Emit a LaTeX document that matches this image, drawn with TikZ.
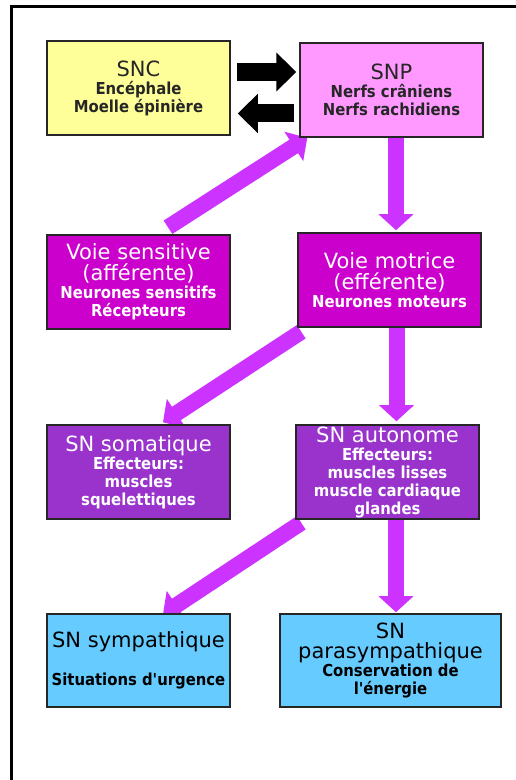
\documentclass[tikz,border=0pt]{standalone}
\usepackage{fontspec}
\setmainfont{DejaVu Sans}
\newfontfamily\condf{DejaVu Sans Condensed}
\usetikzlibrary{arrows.meta,calc,backgrounds}
\definecolor{cyel}{HTML}{FFFF99}
\definecolor{cpink}{HTML}{FF99FF}
\definecolor{cmag}{HTML}{CC00CC}
\definecolor{cpur}{HTML}{9933CC}
\definecolor{ccyan}{HTML}{66CCFF}
\definecolor{carrow}{HTML}{CC33FF}
\newcommand\ttlf{\normalfont\fontsize{21}{21}\selectfont}
\newcommand\subf{\condf\fontsize{16.5}{18}\selectfont\bfseries}
\begin{document}
\begin{tikzpicture}[x=1pt,y=1pt,
  box/.style={draw=black!85, line width=1.5pt, minimum width=183pt, minimum height=94pt,
    inner sep=0pt, align=center, font=\subf},
  parrow/.style={carrow, line width=16pt, -{Triangle[width=34pt,length=16pt]}},
  barrow/.style={black, line width=18pt, -{Triangle[width=38pt,length=20pt]}}]
\useasboundingbox (0,0) rectangle (516,780);
\begin{scope}[on background layer]
  \fill[white] (0,0) rectangle (516,780);
\end{scope}
\draw[line width=3pt, line join=miter] (11,0) -- (11,773) -- (516,773);

\node[box, fill=cyel, text=black!85] (snc) at (138.5,692)
  {{\ttlf SNC}\\Encéphale\\Moelle épinière};
\node[box, fill=cpink, text=black!85] (snp) at (391.5,690)
  {{\ttlf SNP}\\Nerfs crâniens\\Nerfs rachidiens};
\node[box, fill=cmag, text=white] (vs) at (138.5,498)
  {{\ttlf Voie sensitive}\\[3pt]{\ttlf (afférente)}\\Neurones sensitifs\\Récepteurs};
\node[box, fill=cmag, text=white] (vm) at (389.5,500)
  {{\ttlf Voie motrice}\\[3pt]{\ttlf (efférente)}\\Neurones moteurs};
\node[box, fill=cpur, text=white] (som) at (138.5,308)
  {{\ttlf SN somatique}\\Effecteurs:\\muscles\\squelettiques};
\node[box, fill=cpur, text=white] (aut) at (387.5,308)
  {{\ttlf SN autonome}\\Effecteurs:\\muscles lisses\\muscle cardiaque\\glandes};
\node[box, fill=ccyan, text=black, minimum height=93pt] (sym) at (138.5,119.5)
  {{\ttlf SN sympathique}\\[20pt]Situations d'urgence};
\node[box, fill=ccyan, text=black, minimum height=93pt, minimum width=221pt] (para) at (390.5,119.5)
  {{\ttlf SN}\\[2pt]{\ttlf parasympathique}\\Conservation de\\l'énergie};

\begin{scope}[on background layer]
  \draw[barrow] ($(snc.east)+(6,16)$) -- ($(snc.east -| snp.west)+(-3,16)$);
  \draw[barrow] ($(snp.west)+(-5,-23.5)$) -- ($(snp.west -| snc.east)+(7,-23.5)$);
  \draw[parrow] ($(vs.north)+(29.5,7)$) -- ($(snp.south west)+(8,0)$);
  \draw[parrow] ($(snp.south)+(4.5,0)$) -- ($(snp.south |- vm.north)+(4.5,2)$);
  \draw[parrow] ($(vm.south west)+(4,-4)$) -- ($(som.north)+(24.5,2)$);
  \draw[parrow] ($(vm.south)+(7,0)$) -- ($(vm.south |- aut.north)+(7,3)$);
  \draw[parrow] ($(aut.south west)+(6,-3)$) -- ($(sym.north)+(24.5,-1)$);
  \draw[parrow] ($(aut.south)+(8.5,0)$) -- ($(aut.south |- para.north)+(8.5,1)$);
\end{scope}
\end{tikzpicture}
\end{document}
